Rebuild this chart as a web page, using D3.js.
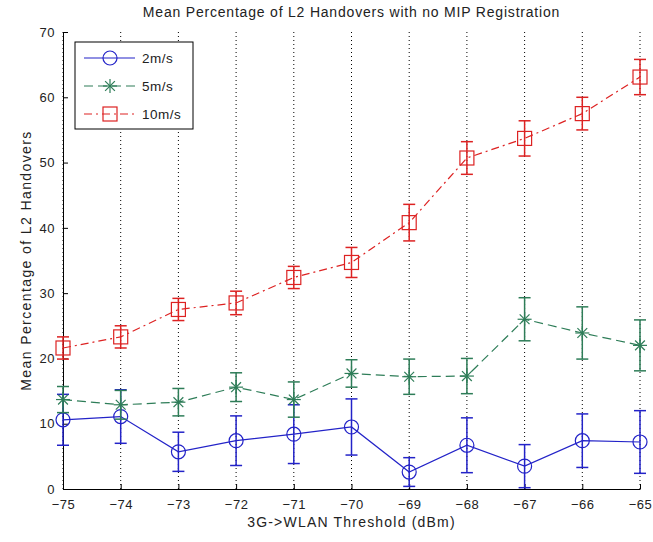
<!DOCTYPE html>
<html>
<head>
<meta charset="utf-8">
<script src="https://cdn.jsdelivr.net/npm/d3@7"></script>
<style>
  body { margin: 0; background: #fff; }
  text { font-family: "Liberation Sans", Arial, sans-serif; }
</style>
</head>
<body>
<div id="chart"></div>
<script>
// thresholds (dBm)
var thresholds = [-75, -74, -73, -72, -71, -70, -69, -68, -67, -66, -65];

// mean percentage + error (half-width) per speed
var mean2 = [10.6, 11.1, 5.7, 7.4, 8.4, 9.5, 2.6, 6.7, 3.5, 7.4, 7.2];
var err2  = [3.9, 4.1, 3.0, 3.8, 4.5, 4.3, 2.2, 4.2, 3.3, 4.1, 4.8];
var mean5 = [13.7, 12.9, 13.3, 15.6, 13.7, 17.7, 17.2, 17.3, 26.0, 23.9, 22.0];
var err5  = [2.0, 2.2, 2.1, 2.2, 2.7, 2.1, 2.7, 2.7, 3.3, 4.0, 3.9];
var mean10 = [21.6, 23.3, 27.5, 28.5, 32.4, 34.7, 40.8, 50.7, 53.7, 57.5, 63.1];
var err10  = [1.7, 1.7, 1.7, 1.8, 1.7, 2.3, 2.8, 2.5, 2.7, 2.5, 2.7];

var yTicks = [0, 10, 20, 30, 40, 50, 60, 70];

var series = [
  {name: "2m/s", mean: mean2, err: err2, color: "#2323c8", dash: null, marker: "circle"},
  {name: "5m/s", mean: mean5, err: err5, color: "#2e7d58", dash: "9,5", marker: "star"},
  {name: "10m/s", mean: mean10, err: err10, color: "#dd2222", dash: "8,4,2,4", marker: "square"}
];

var width = 653, height = 542;
var margin = {top: 32, right: 13, bottom: 53, left: 63};
var font = "'Liberation Sans', Arial, sans-serif";

var svg = d3.select("#chart").append("svg")
    .attr("width", width)
    .attr("height", height);

var x = d3.scaleLinear()
    .domain([-75, -65])
    .range([margin.left, width - margin.right]);

var y = d3.scaleLinear()
    .domain([0, 70])
    .range([height - margin.bottom, margin.top]);

// dotted vertical grid
svg.append("g")
  .selectAll("line")
  .data(thresholds)
  .enter().append("line")
    .attr("x1", d => x(d)).attr("x2", d => x(d))
    .attr("y1", y(0)).attr("y2", y(70))
    .attr("stroke", "#000")
    .attr("stroke-width", 1)
    .attr("stroke-dasharray", "1,3");

// axes, matlab style ticks pointing inward
var xAxis = svg.append("g")
    .attr("transform", "translate(0," + y(0) + ")")
    .call(d3.axisBottom(x).tickValues(thresholds).tickSizeInner(-5).tickSizeOuter(0).tickPadding(11));
var yAxis = svg.append("g")
    .attr("transform", "translate(" + x(-75) + ",0)")
    .call(d3.axisLeft(y).tickValues(yTicks).tickSizeInner(-5).tickSizeOuter(0).tickPadding(8));

[xAxis, yAxis].forEach(function(g) {
  g.selectAll("text").attr("font-size", 13).attr("fill", "#222")
    .style("font-family", font).style("letter-spacing", "0.5px");
  g.select(".domain").attr("stroke", "#000");
});

function drawMarker(g, type, cx, cy, color) {
  if (type == "circle") {
    g.append("circle").attr("cx", cx).attr("cy", cy).attr("r", 7)
      .attr("fill", "none").attr("stroke", color).attr("stroke-width", 1.2);
  } else if (type == "square") {
    g.append("rect").attr("x", cx - 7).attr("y", cy - 7).attr("width", 14).attr("height", 14)
      .attr("fill", "none").attr("stroke", color).attr("stroke-width", 1.2);
  } else {
    var r = 7;
    [[0, 1], [1, 0], [0.7, 0.7], [0.7, -0.7]].forEach(function(v) {
      g.append("line")
        .attr("x1", cx - v[0] * r).attr("y1", cy - v[1] * r)
        .attr("x2", cx + v[0] * r).attr("y2", cy + v[1] * r)
        .attr("stroke", color).attr("stroke-width", 1.2);
    });
  }
}

var line = d3.line()
    .x(d => x(d.t))
    .y(d => y(d.v));

series.forEach(function(s) {
  var pts = thresholds.map((t, i) => ({t: t, v: s.mean[i], e: s.err[i]}));
  var g = svg.append("g");

  g.append("path")
    .datum(pts)
    .attr("d", line)
    .attr("fill", "none")
    .attr("stroke", s.color)
    .attr("stroke-width", 1.2)
    .attr("stroke-dasharray", s.dash);

  // error bars
  pts.forEach(function(p) {
    var cx = x(p.t);
    g.append("line").attr("x1", cx).attr("x2", cx)
      .attr("y1", y(p.v - p.e)).attr("y2", y(p.v + p.e))
      .attr("stroke", s.color).attr("stroke-width", 1.5);
    [p.v - p.e, p.v + p.e].forEach(function(vv) {
      g.append("line").attr("x1", cx - 6).attr("x2", cx + 6)
        .attr("y1", y(vv)).attr("y2", y(vv))
        .attr("stroke", s.color).attr("stroke-width", 1.5);
    });
    drawMarker(g, s.marker, cx, y(p.v), s.color);
  });
});

// legend
var leg = svg.append("g").attr("transform", "translate(75,42)");
leg.append("rect").attr("width", 118).attr("height", 87)
  .attr("fill", "#fff").attr("stroke", "#000").attr("stroke-width", 1);
series.forEach(function(s, i) {
  var ly = 16 + i * 28;
  leg.append("line").attr("x1", 9).attr("x2", 60).attr("y1", ly).attr("y2", ly)
    .attr("stroke", s.color).attr("stroke-width", 1.2).attr("stroke-dasharray", s.dash);
  drawMarker(leg, s.marker, 35, ly, s.color);
  leg.append("text").attr("x", 67).attr("y", ly + 5)
    .attr("font-size", 13.5).attr("fill", "#222").style("letter-spacing", "0.5px").text(s.name);
});

// titles
svg.append("text")
  .attr("x", (x(-75) + x(-65)) / 2).attr("y", 17)
  .attr("text-anchor", "middle").attr("font-size", 14).attr("fill", "#222")
  .style("letter-spacing", "0.8px")
  .text("Mean Percentage of L2 Handovers with no MIP Registration");

svg.append("text")
  .attr("x", (x(-75) + x(-65)) / 2).attr("y", 527)
  .attr("text-anchor", "middle").attr("font-size", 14).attr("fill", "#222")
  .style("letter-spacing", "1.2px")
  .text("3G->WLAN Threshold (dBm)");

svg.append("text")
  .attr("transform", "translate(31," + ((y(0) + y(70)) / 2) + ") rotate(-90)")
  .attr("text-anchor", "middle").attr("font-size", 14).attr("fill", "#222")
  .style("letter-spacing", "1.4px")
  .text("Mean Percentage of L2 Handovers");
</script>
</body>
</html>
